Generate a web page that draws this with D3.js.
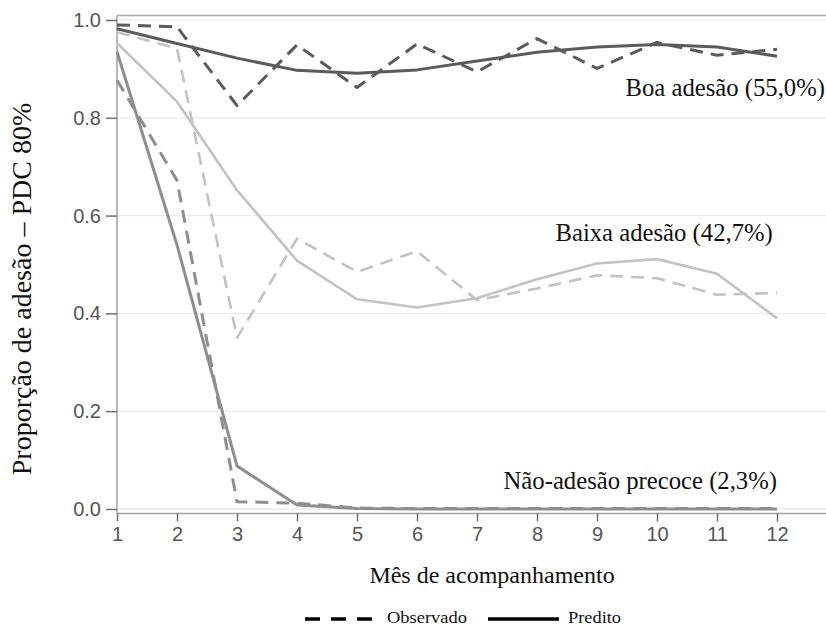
<!DOCTYPE html>
<html>
<head>
<meta charset="utf-8">
<script src="https://cdn.jsdelivr.net/npm/d3@7"></script>
<style>
  html, body { margin: 0; padding: 0; background: #fff; }
  svg { display: block; }
</style>
</head>
<body>
<svg id="chart" width="826" height="627"></svg>
<script>
// Months of follow-up
const months = [1, 2, 3, 4, 5, 6, 7, 8, 9, 10, 11, 12];
const yTicks = [0.0, 0.2, 0.4, 0.6, 0.8, 1.0];

// Proportion adherent (PDC >= 80%) per trajectory group
const boaObservado   = [0.990, 0.986, 0.825, 0.949, 0.862, 0.951, 0.894, 0.962, 0.901, 0.954, 0.928, 0.940];
const boaPredito     = [0.982, 0.952, 0.922, 0.897, 0.891, 0.898, 0.916, 0.934, 0.945, 0.950, 0.945, 0.926];
const baixaObservado = [0.975, 0.942, 0.350, 0.553, 0.485, 0.527, 0.427, 0.451, 0.478, 0.472, 0.438, 0.442];
const baixaPredito   = [0.953, 0.833, 0.652, 0.508, 0.429, 0.412, 0.431, 0.470, 0.502, 0.511, 0.481, 0.390];
const naoObservado   = [0.877, 0.672, 0.015, 0.012, 0.002, 0.001, 0.001, 0.001, 0.001, 0.001, 0.001, 0.001];
const naoPredito     = [0.935, 0.540, 0.088, 0.008, 0.001, 0.000, 0.000, 0.000, 0.000, 0.000, 0.000, 0.000];

const groups = [
  { label: "Baixa adesão (42,7%)",       obs: baixaObservado, pred: baixaPredito, color: "#c3c3c3", width: 2.6, lx: 11.93, ly: 0.548 },
  { label: "Não-adesão precoce (2,3%)",  obs: naoObservado,   pred: naoPredito,   color: "#8e8e8e", width: 3,   lx: 12,    ly: 0.04 },
  { label: "Boa adesão (55,0%)",         obs: boaObservado,   pred: boaPredito,   color: "#5b5b5b", width: 3,   lx: 12.8,  ly: 0.845 }
];

const svg = d3.select("#chart");
const x = d3.scaleLinear().domain([1, 12]).range([117, 777]);
const y = d3.scaleLinear().domain([0, 1]).range([509, 20]);
const right = 826;

// gridlines
svg.append("g").selectAll("line").data(yTicks).join("line")
  .attr("x1", x(1)).attr("x2", right)
  .attr("y1", d => y(d)).attr("y2", d => y(d))
  .attr("stroke", "#ebebeb").attr("stroke-width", 1.3);

// frame: top border, left axis, bottom axis
svg.append("line").attr("x1", x(1)).attr("x2", right).attr("y1", 15.5).attr("y2", 15.5)
  .attr("stroke", "#a8a8a8").attr("stroke-width", 1.3);

const yAxis = d3.axisLeft(y).tickValues(yTicks).tickFormat(d3.format(".1f")).tickSize(11).tickPadding(5);
const gy = svg.append("g").attr("transform", `translate(${x(1)},0)`).call(yAxis);
gy.select(".domain").attr("d", `M0,15.5V513.5`);

const xAxis = d3.axisBottom(x).tickValues(months).tickFormat(d3.format("d")).tickSize(8).tickPadding(5);
const gx = svg.append("g").attr("transform", `translate(0,513.5)`).call(xAxis);
gx.select(".domain").attr("d", `M${x(1)},0H${right}`);

[gx, gy].forEach(g => {
  g.select(".domain").attr("stroke", "#a0a0a0").attr("stroke-width", 1.5);
  g.selectAll(".tick line").attr("stroke", "#707070").attr("stroke-width", 1.5);
  g.selectAll(".tick text")
    .attr("fill", "#555").attr("font-family", "'Liberation Sans', Arial, sans-serif").attr("font-size", 20);
});

// series
const line = d3.line().x((d, i) => x(months[i])).y(d => y(d));
const gSeries = svg.append("g").attr("fill", "none").attr("stroke-linejoin", "round");
groups.forEach(g => {
  gSeries.append("path").attr("d", line(g.obs))
    .attr("stroke", g.color).attr("stroke-width", g.width).attr("stroke-dasharray", "13,8");
  gSeries.append("path").attr("d", line(g.pred))
    .attr("stroke", g.color).attr("stroke-width", g.width);
});

const serif = "'Liberation Serif', 'Times New Roman', serif";

// group labels
svg.append("g").selectAll("text").data(groups).join("text")
  .attr("x", d => x(d.lx)).attr("y", d => y(d.ly))
  .attr("text-anchor", "end")
  .attr("font-family", serif).attr("font-size", 24.7)
  .attr("fill", "#111")
  .text(d => d.label);

// axis titles
svg.append("text")
  .attr("transform", `translate(31,289) rotate(-90)`)
  .attr("text-anchor", "middle")
  .attr("font-family", serif).attr("font-size", 28)
  .attr("fill", "#111")
  .text("Proporção de adesão – PDC 80%");

svg.append("text")
  .attr("x", 492).attr("y", 583)
  .attr("text-anchor", "middle")
  .attr("font-family", serif).attr("font-size", 24)
  .attr("fill", "#111")
  .text("Mês de acompanhamento");

// legend
const legend = [
  { label: "Observado", dash: "15,11", x0: 305, x1: 372, tx: 387, tw: 80 },
  { label: "Predito",   dash: null,    x0: 488, x1: 559, tx: 568, tw: 53 }
];
const gl = svg.append("g");
legend.forEach(l => {
  gl.append("line").attr("x1", l.x0).attr("x2", l.x1).attr("y1", 619).attr("y2", 619)
    .attr("stroke", "#000").attr("stroke-width", 3.5)
    .attr("stroke-dasharray", l.dash);
  gl.append("text").attr("x", l.tx).attr("y", 623)
    .attr("font-family", serif).attr("font-size", 16)
    .attr("textLength", l.tw).attr("lengthAdjust", "spacingAndGlyphs")
    .attr("fill", "#111").text(l.label);
});
</script>
</body>
</html>
